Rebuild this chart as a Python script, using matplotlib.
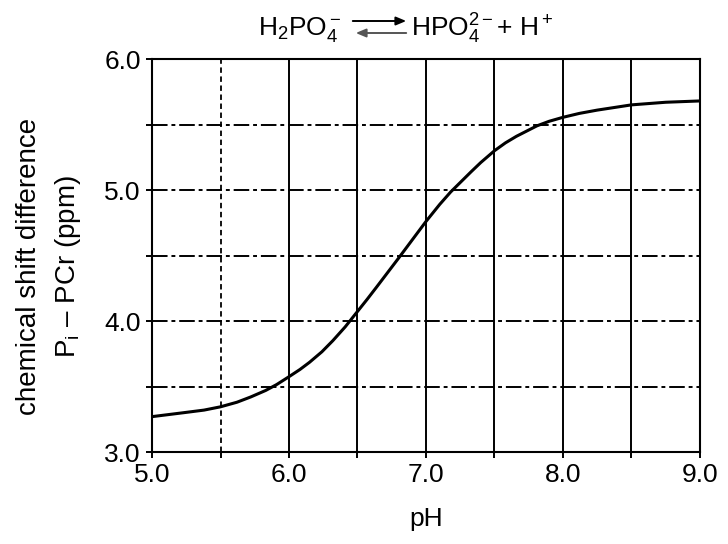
import matplotlib
matplotlib.use("Agg")
import matplotlib.pyplot as plt
from matplotlib.patches import FancyArrowPatch

plt.rcParams["font.family"] = ["Liberation Sans", "DejaVu Sans"]
plt.rcParams["mathtext.fontset"] = "custom"
plt.rcParams["mathtext.rm"] = "Liberation Sans"
plt.rcParams["mathtext.it"] = "Liberation Sans:italic"

# titration curve of inorganic phosphate, shift relative to PCr
ph = [5.0, 5.23, 5.38, 5.5, 5.62, 5.72, 5.83, 5.91, 6.0, 6.08, 6.15, 6.24,
      6.32, 6.41, 6.49, 6.57, 6.64, 6.72, 6.8, 6.9, 7.0, 7.1, 7.18, 7.33,
      7.4, 7.5, 7.58, 7.66, 7.81, 7.9, 8.0, 8.12, 8.25, 8.5, 8.75, 9.0]
shift = [3.27, 3.30, 3.32, 3.345, 3.38, 3.42, 3.47, 3.515, 3.575, 3.63, 3.685, 3.765,
         3.85, 3.955, 4.06, 4.165, 4.26, 4.37, 4.48, 4.62, 4.76, 4.89, 4.985, 5.14,
         5.21, 5.30, 5.36, 5.41, 5.49, 5.525, 5.555, 5.585, 5.61, 5.65, 5.67, 5.68]

x_ticks = [5.0 + 0.5 * i for i in range(9)]
y_ticks = [3.0 + 0.5 * i for i in range(7)]
x_labels = ["5.0", "", "6.0", "", "7.0", "", "8.0", "", "9.0"]
y_labels = ["3.0", "", "4.0", "", "5.0", "", "6.0"]

fig = plt.figure(figsize=(7.28, 5.44), dpi=100)
ax = fig.add_axes([0.2088, 0.1691, 0.7527, 0.7224])

# grid: solid verticals, dashed at 5.5, dash-dot horizontals
for xv in [6.0, 6.5, 7.0, 7.5, 8.0, 8.5]:
    ax.axvline(xv, color="black", lw=1.4, zorder=1)
ax.axvline(5.5, color="black", lw=1.3, ls=(0, (3, 2)), zorder=1)
for yv in [3.5, 4.0, 4.5, 5.0, 5.5]:
    ax.axhline(yv, color="black", lw=1.4, ls=(0, (8, 2, 2, 2)), zorder=1)

ax.plot(ph, shift, color="black", lw=2.2, zorder=3, solid_joinstyle="round")

ax.set_xlim(5.0, 9.0)
ax.set_ylim(3.0, 6.0)
ax.set_xticks(x_ticks)
ax.set_xticklabels(x_labels)
ax.set_yticks(y_ticks)
ax.set_yticklabels(y_labels)
ax.tick_params(direction="out", length=4, width=1.4, labelsize=19, pad=4, colors="black")
for sp in ax.spines.values():
    sp.set_linewidth(1.5)

ax.set_xlabel("pH", fontsize=19, labelpad=14)

fig.text(0.040, 0.511, "chemical shift difference", rotation=90, fontsize=20,
         ha="center", va="center")
fig.text(0.093, 0.511, r"P$_\mathrm{i}$ – PCr (ppm)", rotation=90, fontsize=20,
         ha="center", va="center")

# equilibrium header
fig.text(342 / 728, 1 - 29 / 544, r"H$_2$PO$_4^-$", fontsize=19, ha="right", va="center")
fig.text(411 / 728, 1 - 29 / 544, r"HPO$_4^{2-}$+ H$^+$", fontsize=19, ha="left", va="center")
fig.add_artist(FancyArrowPatch(
    (350 / 728, 1 - 21 / 544), (409 / 728, 1 - 21 / 544), transform=fig.transFigure,
    arrowstyle="-|>,head_length=6,head_width=2.5", mutation_scale=1, lw=1.4, color="black"))
fig.add_artist(FancyArrowPatch(
    (409 / 728, 1 - 33 / 544), (353 / 728, 1 - 33 / 544), transform=fig.transFigure,
    arrowstyle="-|>,head_length=6,head_width=2.5", mutation_scale=1, lw=1.4, color="#555555"))

fig.savefig("out.png", dpi=100)
